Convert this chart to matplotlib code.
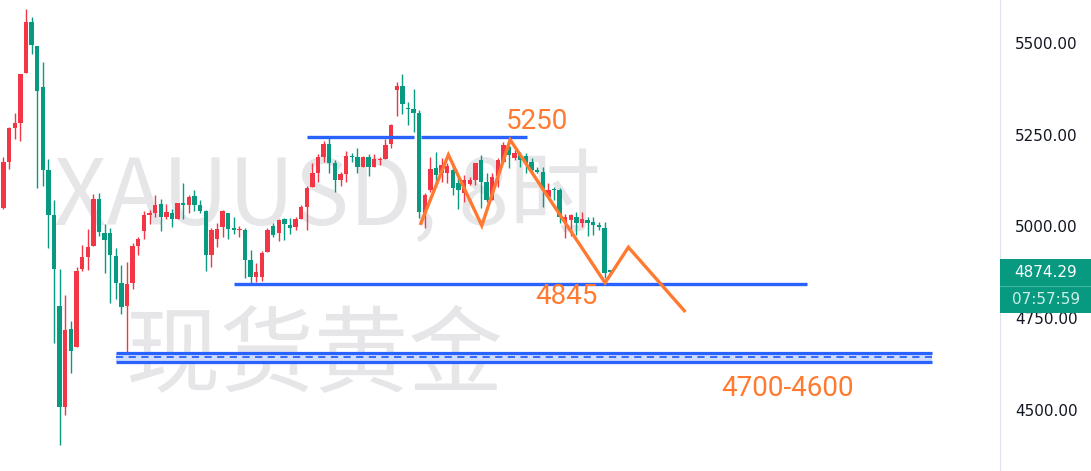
import numpy as np
import matplotlib
matplotlib.use('Agg')
import matplotlib.pyplot as plt
from matplotlib.patches import Rectangle

# 8h candles, XAUUSD (red = up, green = down)
opens = [5050, 5176, 5268, 5282, 5418, 5557, 5492, 5380, 5154, 5031,
         4783, 4508, 4720, 4671, 4884, 4917, 4947, 5075, 4982, 4982,
         4919, 4846, 4783, 4846, 4947, 4988, 5031, 5037, 5061, 5026,
         5037, 5020, 5064, 5058, 5083, 5058, 5042, 4922, 4966, 4998,
         5037, 4996, 4990, 4990, 4908, 4862, 4862, 4930, 5001, 4982,
         5020, 5004, 4998, 5020, 5053, 5107, 5146, 5189, 5225, 5173,
         5127, 5143, 5192, 5189, 5162, 5189, 5162, 5181, 5184, 5225,
         5372, 5383, 5323, 5320, 5309, 5037, 5099, 5159, 5146, 5146,
         5154, 5118, 5091, 5116, 5127, 5181, 5121, 5072, 5137, 5176,
         5216, 5186, 5195, 5192, 5176, 5154, 5148, 5080, 5103, 5099,
         5012, 5017, 5026, 5009, 5017, 5012, 5004, 4996, 4880]
highs = [5189, 5271, 5309, 5415, 5593, 5571, 5492, 5448, 5184, 5072,
         4884, 4813, 4742, 4889, 4949, 4993, 5088, 5091, 5007, 4996,
         4941, 4895, 4903, 4955, 4971, 5042, 5045, 5086, 5075, 5061,
         5048, 5064, 5118, 5086, 5099, 5072, 5045, 4996, 5009, 5045,
         5037, 5026, 5001, 4996, 4936, 4900, 4933, 4996, 5009, 5020,
         5023, 5023, 5026, 5058, 5110, 5173, 5197, 5233, 5246, 5181,
         5148, 5206, 5200, 5214, 5192, 5197, 5197, 5189, 5238, 5279,
         5394, 5415, 5339, 5375, 5317, 5091, 5189, 5203, 5186, 5173,
         5173, 5132, 5140, 5135, 5173, 5195, 5146, 5146, 5186, 5230,
         5222, 5208, 5203, 5200, 5186, 5162, 5162, 5118, 5107, 5105,
         5034, 5034, 5039, 5039, 5026, 5026, 5012, 5012, 4882]
lows = [5047, 5157, 5238, 5233, 5418, 5470, 5105, 5110, 4941, 4682,
        4404, 4486, 4600, 4671, 4878, 4881, 4947, 4974, 4873, 4791,
        4802, 4761, 4658, 4829, 4922, 4966, 5007, 5026, 4988, 5020,
        4998, 5020, 5020, 5037, 5042, 5037, 4878, 4889, 4944, 4971,
        4966, 4979, 4971, 4859, 4843, 4848, 4851, 4930, 4971, 4960,
        4963, 4979, 4990, 5020, 4990, 5107, 5121, 5176, 5146, 5094,
        5110, 5121, 5176, 5146, 5162, 5137, 5162, 5167, 5184, 5214,
        5301, 5306, 5276, 5257, 5023, 4996, 5094, 5107, 5121, 5118,
        5086, 5048, 5067, 5113, 5113, 5050, 5067, 5072, 5107, 5176,
        5159, 5181, 5162, 5146, 5146, 5146, 5053, 5080, 5072, 5009,
        4968, 4974, 4977, 4998, 4974, 4977, 4990, 4859, 4866]
closes = [5176, 5268, 5282, 5415, 5557, 5495, 5369, 5154, 5031, 4884,
          4508, 4718, 4660, 4878, 4917, 4944, 5075, 4985, 4963, 4922,
          4846, 4780, 4843, 4947, 4966, 5031, 5037, 5058, 5026, 5039,
          5020, 5064, 5058, 5080, 5058, 5042, 4922, 4990, 4993, 5042,
          4993, 4990, 4993, 4908, 4862, 4876, 4927, 4990, 4977, 5017,
          5007, 4996, 5020, 5053, 5105, 5146, 5189, 5225, 5173, 5127,
          5143, 5192, 5189, 5162, 5189, 5162, 5184, 5184, 5222, 5276,
          5383, 5334, 5320, 5309, 5039, 5086, 5157, 5140, 5167, 5165,
          5105, 5099, 5127, 5127, 5173, 5121, 5072, 5135, 5181, 5222,
          5195, 5200, 5181, 5173, 5154, 5148, 5099, 5099, 5099, 5026,
          5026, 5031, 5009, 5020, 5009, 5004, 4998, 4873, 4874.29]

last_price = "4874.29"
countdown = "07:57:59"
price_ticks = [4500, 4750, 5000, 5250, 5500]

# drawings: (start bar, end bar, price)
resistance_lines = [(54.0, 73.1, 5244), (74.3, 93.2, 5244)]
support_line = (41.0, 143.1, 4843)
zone = (20.0, 165.3, 4629, 4643, 4656)  # start, end, bottom, middle, top
zigzag_x = [74.3, 79.2, 85.15, 90.2, 107.1, 111.25, 121.2]
zigzag_y = [5008, 5195, 5002, 5236, 4846, 4943, 4770]
labels = [("5250", 95.0, 5285), ("4845", 100.3, 4810), ("4700-4600", 139.5, 4559)]

UP = '#f23645'
DOWN = '#089981'
BLUE = '#2962ff'
ORANGE = '#ff7a30'

fig = plt.figure(figsize=(10.91, 4.71), dpi=100)
ax = fig.add_axes([0, 0, 1000 / 1091, 1])
ax.set_xlim(-0.62, 177.4)
ax.set_ylim(4333, 5617)

# watermark
wm = ['Noto Sans CJK SC', 'DejaVu Sans']
ax.text(0.327, 0.578, 'XAUUSD, 8时', transform=ax.transAxes, fontsize=66,
        family=wm, color='#e6e6e9', ha='center', va='center', zorder=0)
ax.text(0.315, 0.24, '现货黄金', transform=ax.transAxes, fontsize=68,
        family=wm, color='#e6e6e9', ha='center', va='center', zorder=0)

o = np.array(opens, float)
h = np.array(highs, float)
l = np.array(lows, float)
c = np.array(closes, float)
x = np.arange(len(o))
cols = np.where(c >= o, UP, DOWN)
ax.vlines(x, l, h, colors=cols, linewidth=1, zorder=2)
body = np.maximum(np.abs(c - o), 2.5)
ax.bar(x, body, bottom=np.minimum(o, c), width=0.78, color=cols, zorder=3)

# zone 4700-4600
zx0, zx1, zb, zm, zt = zone
ax.fill_between([zx0, zx1], zb, zt, color='#cfdbfb', zorder=4, lw=0)
ax.hlines([zb, zt], zx0, zx1, colors=BLUE, linewidth=2.3, zorder=5)
ax.hlines(zm, zx0, zx1, colors=BLUE, linewidth=1.3, linestyles=(0, (4, 3)), zorder=5)

for x0, x1, yv in resistance_lines:
    ax.hlines(yv, x0, x1, colors=BLUE, linewidth=2.4, zorder=5)
ax.hlines(support_line[2], support_line[0], support_line[1], colors=BLUE, linewidth=2.4, zorder=5)

ax.plot(zigzag_x, zigzag_y, color=ORANGE, linewidth=2.4, zorder=6, solid_joinstyle='miter')

for txt, tx, ty in labels:
    ax.text(tx, ty, txt, color=ORANGE, fontsize=20, family='Roboto',
            ha='center', va='center', zorder=7)

# price scale
for s in ['top', 'left', 'bottom']:
    ax.spines[s].set_visible(False)
ax.spines['right'].set_color('#e0e3eb')
ax.set_xticks([])
ax.yaxis.tick_right()
ax.set_yticks(price_ticks)
ax.set_yticklabels(['%.2f' % v for v in price_ticks])
ax.tick_params(axis='y', length=0, pad=11, labelsize=11, labelcolor='#131722')

# last price tag
fig.canvas.draw()
py = ax.transData.transform((0, c[-1]))[1]
H = 471.0
mid = py / H - 13.5 / H
fig.patches.append(Rectangle((1000 / 1091, mid - 27 / H), 91 / 1091, 54 / H,
                             transform=fig.transFigure, facecolor=DOWN,
                             edgecolor='none', zorder=10))
fig.lines.append(plt.Line2D([1000 / 1091, 1], [mid, mid], transform=fig.transFigure,
                            color='#3fb39f', linewidth=0.8, zorder=11))
fig.text(1046 / 1091, py / H, last_price, color='white', fontsize=11,
         ha='center', va='center', zorder=12)
fig.text(1046 / 1091, (py - 27) / H, countdown, color='#cdeee7', fontsize=11,
         ha='center', va='center', zorder=12)

fig.savefig('out.png', dpi=100)
